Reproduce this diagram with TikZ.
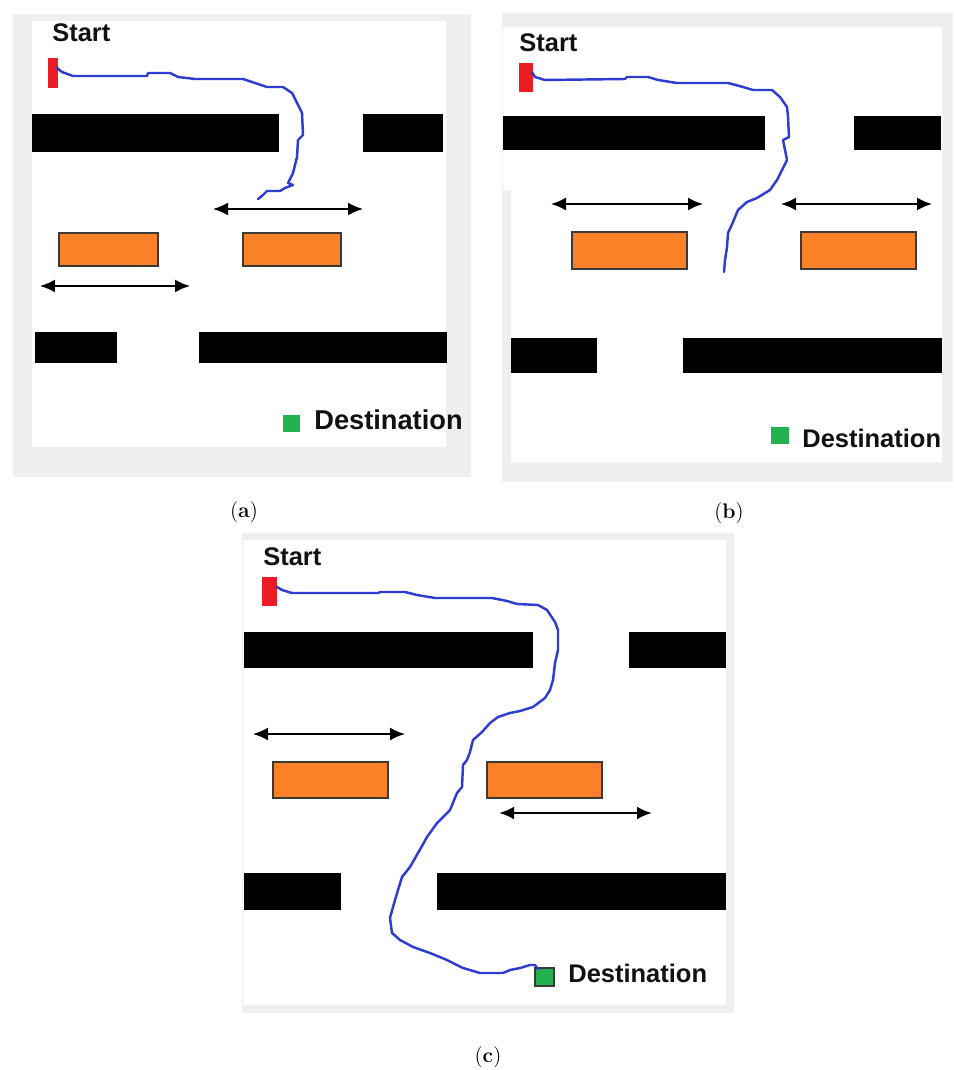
\documentclass[tikz,border=0pt]{standalone}
\usepackage{fontspec}
\usepackage{xcolor}
\usepackage{tikz}
\usetikzlibrary{
  arrows.meta,
  positioning
}
\newfontfamily\maplabelfont{Liberation Sans}
\definecolor{FigText}{HTML}{111111}
\definecolor{FigFrame}{HTML}{EFEFEF}
\definecolor{FigOrange}{HTML}{FB8128}
\definecolor{FigEdge}{HTML}{3A3A3A}
\definecolor{FigRed}{HTML}{EC1C24}
\definecolor{FigGreen}{HTML}{22B14C}
\definecolor{FigRoute}{HTML}{2F3CD4}

\begin{document}
\begin{tikzpicture}[
x=0.02cm, y=-0.02cm,
>=Latex,
frame/.style={fill=FigFrame},
field/.style={fill=white},
wall/.style={fill=black},
car/.style={
fill=FigOrange,
draw=FigEdge,
line width=0.7pt
},
startmark/.style={fill=FigRed},
goalmark/.style={fill=FigGreen},
motion/.style={
{Latex[length=0.3cm,width=0.26cm]}-{Latex[length=0.3cm,width=0.26cm]},
line width=1.1pt,
draw=black
},
route/.style={
draw=FigRoute,
line width=1.4pt,
line join=round,
line cap=round
},
maplabel/.style={
font=\maplabelfont\bfseries\fontsize{14.5}{17}\selectfont,
inner sep=0pt,
anchor=base west,
text=FigText
},
caption/.style={
font=\fontsize{12}{14}\selectfont,
inner sep=0pt,
text=black
}
]
\useasboundingbox[fill=white] (0,0) rectangle (953,1070);

% Panel (a) - route stops before the lower lane
\fill[frame] (13,14) rectangle (471,477);
\fill[field] (32,21) rectangle (446,447);
\fill[wall] (32,114) rectangle (279,152);
\fill[wall] (363,114) rectangle (443,152);
\fill[wall] (35,332) rectangle (117,363);
\fill[wall] (199,332) rectangle (447,363);
\draw[car] (59,233) rectangle (158,266);
\draw[car] (243,233) rectangle (341,266);
\draw[motion] (213,209) -- (363,209);
\draw[motion] (40,286) -- (190,286);
\fill[startmark] (48,58) rectangle (58,88);
\fill[goalmark] (283,415) rectangle (300,432);
\node[maplabel] (startA) at (52,42) {Start};
\node[maplabel, font=\maplabelfont\bfseries\fontsize{15.5}{18}\selectfont] (goalA) at (314,430) {Destination};
\draw[route] (57,68) -- (62,72) -- (73,76) -- (147,76) -- (148,73) -- (170,73)
  -- (178,77) -- (195,79) -- (243,79) -- (255,83) -- (267,87) -- (283,87)
  -- (292,93) -- (297,103) -- (302,113) -- (303,135) -- (298,140) -- (297,157)
  -- (293,173) -- (288,183) -- (293,185) -- (285,188) -- (280,191) -- (267,191)
  -- (263,195) -- (258,199);
\node[caption] (capA) at (244,512) {(\textbf{a})};

% Panel (b) - route passes between the two cars
\fill[frame] (502,13) rectangle (953,482);
\fill[field] (503,27) -- (942,27) -- (942,462) -- (511,462) -- (511,190) -- (503,190) -- cycle;
\fill[wall] (503,116) rectangle (765,150);
\fill[wall] (854,116) rectangle (941,150);
\fill[wall] (511,338) rectangle (597,373);
\fill[wall] (683,338) rectangle (942,373);
\draw[car] (572,232) rectangle (687,269);
\draw[car] (801,232) rectangle (916,269);
\draw[motion] (551,204) -- (703,204);
\draw[motion] (781,204) -- (932,204);
\fill[startmark] (519,63) rectangle (533,92);
\fill[goalmark] (771,427) rectangle (789,444);
\node[maplabel] (startB) at (519,52) {Start};
\node[maplabel] (goalB) at (802,447) {Destination};
\draw[route] (532,72) -- (535,77) -- (545,80) -- (625,79) -- (627,77) -- (648,77)
  -- (658,80) -- (677,83) -- (728,83) -- (743,87) -- (753,90) -- (772,90)
  -- (780,97) -- (787,107) -- (788,117) -- (789,137) -- (783,140) -- (787,160)
  -- (782,170) -- (777,180) -- (770,190) -- (757,198) -- (747,202) -- (738,210)
  -- (733,222) -- (728,233) -- (727,247) -- (725,260) -- (724,272);
\node[caption] (capB) at (729,513) {(\textbf{b})};

% Panel (c) - full route down to the destination
\fill[frame] (242,533) rectangle (734,1013);
\fill[field] (243,540) rectangle (726,1005);
\fill[wall] (244,632) rectangle (533,668);
\fill[wall] (629,632) rectangle (726,668);
\fill[wall] (244,873) rectangle (341,910);
\fill[wall] (437,873) rectangle (726,910);
\draw[car] (273,762) rectangle (388,798);
\draw[car] (487,762) rectangle (602,798);
\draw[motion] (253,734) -- (405,734);
\draw[motion, line width=1.5pt] (499,813) -- (652,813);
\fill[startmark] (262,577) rectangle (277,606);
\draw[goalmark, draw=FigEdge, line width=0.8pt] (535,968) rectangle (554,986);
\node[maplabel] (startC) at (263,565) {Start};
\node[maplabel] (goalC) at (568,982) {Destination};
\draw[route] (277,587) -- (282,590) -- (292,593) -- (378,593) -- (380,592) -- (405,592)
  -- (417,595) -- (435,598) -- (492,598) -- (507,601) -- (517,604) -- (538,605)
  -- (547,610) -- (555,622) -- (558,630) -- (558,650) -- (555,663) -- (553,680)
  -- (550,690) -- (545,698) -- (533,707) -- (520,711) -- (510,713) -- (498,717)
  -- (490,723) -- (482,732) -- (473,740) -- (470,752) -- (467,760) -- (463,765)
  -- (462,787) -- (457,793) -- (450,810) -- (437,823) -- (427,837) -- (418,853)
  -- (410,867) -- (402,877) -- (398,890) -- (393,907) -- (390,918) -- (392,933)
  -- (400,940) -- (413,947) -- (430,953) -- (447,960) -- (463,968) -- (480,973)
  -- (503,973) -- (510,970) -- (520,968) -- (530,965) -- (535,965) -- (538,969);
\node[caption] (capC) at (488,1057) {(\textbf{c})};

\end{tikzpicture}
\end{document}
